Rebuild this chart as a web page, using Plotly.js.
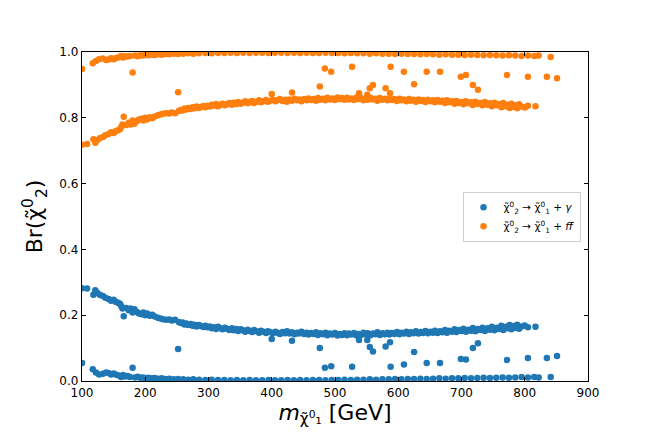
<!DOCTYPE html>
<html>
<head>
<meta charset="utf-8">
<script src="https://cdn.plot.ly/plotly-3.0.1.min.js"></script>
<style>
  html, body { margin: 0; padding: 0; background: #fff; }
  #chart { width: 654px; height: 436px; }
</style>
</head>
<body>
<div id="chart"></div>
<script>
// neutralino mass [GeV]
const mass = [
  // main band (photon ~0.15, fermions ~0.85)
  100, 108, 118, 121, 124, 128, 133, 137, 142, 146, 150, 153, 157, 160, 162, 164, 166, 170, 174, 177,
  180, 183, 187, 190, 194, 197, 200, 203, 207, 211, 215, 220, 224, 228, 233, 238, 242, 247, 253, 256,
  259, 262, 265, 268, 272, 275, 278, 281, 285, 288, 292, 295, 298, 302, 305, 308, 312, 315, 318, 322,
  326, 330, 333, 337, 340, 344, 347, 351, 354, 358, 362, 365, 369, 372, 376, 380, 383, 387, 391, 394,
  398, 402, 406, 410, 413, 417, 421, 424, 428, 432, 436, 440, 443, 447, 451, 455, 458, 462, 466, 470,
  473, 477, 481, 485, 488, 492, 496, 500, 504, 507, 511, 515, 519, 522, 526, 530, 534, 537, 541, 545,
  549, 552, 556, 560, 564, 567, 571, 575, 579, 583, 586, 590, 594, 598, 602, 605, 609, 613, 617, 620,
  624, 628, 632, 636, 639, 643, 647, 651, 655, 658, 662, 666, 670, 674, 677, 681, 685, 689, 692, 696,
  700, 703, 707, 711, 715, 718, 722, 726, 730, 733, 737, 741, 745, 748, 752, 756, 759, 763, 766, 770,
  773, 776, 779, 782, 785, 788, 791, 795, 800, 805, 817,
  // lower band (photon ~0, fermions ~1)
  100, 117, 122, 127, 133, 138, 142, 146, 150, 154, 158, 162, 165, 168, 172, 176, 180, 184, 188, 192,
  196, 200, 205, 210, 215, 220, 226, 232, 238, 245, 252, 260, 268, 276, 285, 295, 305, 315, 325, 335,
  345, 355, 365, 375, 385, 395, 405, 415, 425, 435, 445, 455, 465, 475, 485, 495, 505, 515, 525, 535,
  545, 555, 565, 575, 585, 595, 605, 615, 625, 635, 645, 655, 665, 675, 685, 695, 705, 715, 725, 735,
  745, 755, 765, 775, 785, 795, 805, 815, 822, 841,
  // scattered points
  252, 400, 432, 476, 484, 494, 527, 538, 551, 555, 560, 580, 587, 588, 609, 625, 645, 666, 699, 707,
  718, 726, 772, 805, 835, 851
]

// Br(chi2 -> chi1 + gamma)
const brPhoton = [
  0.282, 0.281, 0.262, 0.276, 0.268, 0.262, 0.258, 0.253, 0.249, 0.244, 0.247, 0.241, 0.238, 0.235, 0.228, 0.220, 0.197, 0.222, 0.215, 0.220,
  0.208, 0.218, 0.210, 0.205, 0.203, 0.208, 0.200, 0.205, 0.198, 0.201, 0.196, 0.192, 0.190, 0.188, 0.186, 0.187, 0.184, 0.186, 0.179, 0.176,
  0.178, 0.172, 0.175, 0.170, 0.173, 0.168, 0.171, 0.166, 0.170, 0.167, 0.164, 0.168, 0.163, 0.166, 0.160, 0.163, 0.158, 0.165, 0.161, 0.157,
  0.162, 0.158, 0.155, 0.160, 0.154, 0.158, 0.152, 0.157, 0.154, 0.150, 0.156, 0.152, 0.149, 0.155, 0.151, 0.147, 0.153, 0.150, 0.146, 0.151,
  0.148, 0.145, 0.150, 0.146, 0.143, 0.149, 0.145, 0.151, 0.144, 0.148, 0.142, 0.147, 0.144, 0.150, 0.143, 0.147, 0.141, 0.146, 0.143, 0.148,
  0.140, 0.145, 0.142, 0.147, 0.139, 0.144, 0.141, 0.146, 0.138, 0.143, 0.140, 0.145, 0.139, 0.144, 0.141, 0.146, 0.138, 0.143, 0.140, 0.147,
  0.141, 0.145, 0.139, 0.144, 0.142, 0.148, 0.140, 0.145, 0.142, 0.147, 0.141, 0.146, 0.143, 0.149, 0.142, 0.147, 0.144, 0.150, 0.143, 0.148,
  0.145, 0.151, 0.144, 0.149, 0.146, 0.152, 0.145, 0.150, 0.147, 0.153, 0.146, 0.151, 0.148, 0.155, 0.147, 0.153, 0.150, 0.157, 0.149, 0.155,
  0.152, 0.159, 0.150, 0.156, 0.153, 0.161, 0.151, 0.158, 0.155, 0.162, 0.152, 0.160, 0.156, 0.165, 0.154, 0.162, 0.158, 0.168, 0.155, 0.165,
  0.160, 0.170, 0.157, 0.167, 0.162, 0.171, 0.159, 0.166, 0.169, 0.163, 0.165,
  0.055, 0.036, 0.026, 0.020, 0.022, 0.026, 0.024, 0.020, 0.023, 0.019, 0.017, 0.012, 0.018, 0.014, 0.015, 0.012, 0.040, 0.011, 0.013, 0.010,
  0.011, 0.009, 0.010, 0.008, 0.009, 0.007, 0.008, 0.006, 0.007, 0.005, 0.006, 0.005, 0.004, 0.005, 0.004, 0.003, 0.004, 0.003, 0.003, 0.002,
  0.003, 0.002, 0.003, 0.002, 0.002, 0.003, 0.002, 0.002, 0.003, 0.002, 0.003, 0.002, 0.003, 0.003, 0.002, 0.003, 0.003, 0.004, 0.003, 0.004,
  0.004, 0.005, 0.004, 0.005, 0.005, 0.006, 0.005, 0.006, 0.006, 0.007, 0.006, 0.007, 0.008, 0.007, 0.008, 0.008, 0.009, 0.008, 0.009, 0.010,
  0.009, 0.010, 0.011, 0.010, 0.011, 0.012, 0.011, 0.012, 0.011, 0.012,
  0.097, 0.128, 0.122, 0.100, 0.040, 0.045, 0.043, 0.125, 0.125, 0.103, 0.090, 0.105, 0.118, 0.043, 0.050, 0.088, 0.055, 0.055, 0.067, 0.065,
  0.100, 0.115, 0.064, 0.070, 0.070, 0.076
]

// Br(chi2 -> chi1 + f fbar)
const brFermion = [
  0.718, 0.720, 0.735, 0.724, 0.732, 0.738, 0.742, 0.747, 0.751, 0.756, 0.754, 0.759, 0.762, 0.765, 0.772, 0.780, 0.803, 0.778, 0.785, 0.780,
  0.792, 0.782, 0.790, 0.795, 0.797, 0.792, 0.800, 0.795, 0.802, 0.799, 0.804, 0.808, 0.810, 0.812, 0.814, 0.813, 0.816, 0.814, 0.821, 0.824,
  0.822, 0.828, 0.825, 0.830, 0.827, 0.832, 0.829, 0.834, 0.830, 0.833, 0.836, 0.832, 0.837, 0.834, 0.840, 0.837, 0.842, 0.835, 0.839, 0.843,
  0.838, 0.842, 0.845, 0.840, 0.846, 0.842, 0.848, 0.843, 0.846, 0.850, 0.844, 0.848, 0.851, 0.845, 0.849, 0.853, 0.847, 0.850, 0.854, 0.849,
  0.852, 0.855, 0.850, 0.854, 0.857, 0.851, 0.855, 0.849, 0.856, 0.852, 0.858, 0.853, 0.856, 0.850, 0.857, 0.853, 0.859, 0.854, 0.857, 0.852,
  0.860, 0.855, 0.858, 0.853, 0.861, 0.856, 0.859, 0.854, 0.862, 0.857, 0.860, 0.855, 0.861, 0.856, 0.859, 0.854, 0.862, 0.857, 0.860, 0.853,
  0.859, 0.855, 0.861, 0.856, 0.858, 0.852, 0.860, 0.855, 0.858, 0.853, 0.859, 0.854, 0.857, 0.851, 0.858, 0.853, 0.856, 0.850, 0.857, 0.852,
  0.855, 0.849, 0.856, 0.851, 0.854, 0.848, 0.855, 0.850, 0.853, 0.847, 0.854, 0.849, 0.852, 0.845, 0.853, 0.847, 0.850, 0.843, 0.851, 0.845,
  0.848, 0.841, 0.850, 0.844, 0.847, 0.839, 0.849, 0.842, 0.845, 0.838, 0.848, 0.840, 0.844, 0.835, 0.846, 0.838, 0.842, 0.832, 0.845, 0.835,
  0.840, 0.830, 0.843, 0.833, 0.838, 0.829, 0.841, 0.834, 0.831, 0.837, 0.835,
  0.948, 0.966, 0.973, 0.978, 0.980, 0.976, 0.977, 0.981, 0.978, 0.982, 0.984, 0.988, 0.983, 0.987, 0.986, 0.988, 0.938, 0.989, 0.987, 0.990,
  0.989, 0.991, 0.990, 0.992, 0.991, 0.993, 0.992, 0.994, 0.993, 0.995, 0.994, 0.995, 0.996, 0.995, 0.996, 0.997, 0.996, 0.997, 0.997, 0.998,
  0.997, 0.998, 0.997, 0.998, 0.998, 0.997, 0.998, 0.998, 0.997, 0.998, 0.997, 0.998, 0.997, 0.997, 0.998, 0.997, 0.997, 0.996, 0.997, 0.996,
  0.996, 0.995, 0.996, 0.995, 0.995, 0.994, 0.995, 0.994, 0.994, 0.993, 0.994, 0.993, 0.992, 0.993, 0.992, 0.992, 0.991, 0.992, 0.991, 0.990,
  0.991, 0.990, 0.989, 0.990, 0.989, 0.988, 0.989, 0.988, 0.989, 0.985,
  0.878, 0.872, 0.877, 0.895, 0.950, 0.940, 0.955, 0.875, 0.870, 0.890, 0.900, 0.890, 0.875, 0.955, 0.940, 0.902, 0.940, 0.940, 0.925, 0.930,
  0.900, 0.885, 0.930, 0.925, 0.925, 0.920
]

const labels = [
  'χ̃<sup>0</sup><sub>2</sub> → χ̃<sup>0</sup><sub>1</sub> + <i>γ</i>',
  'χ̃<sup>0</sup><sub>2</sub> → χ̃<sup>0</sup><sub>1</sub> + <i>f</i><i>f̄</i>'
]
const colors = ['#1f77b4', '#ff7f0e']
const xTicks = [100, 200, 300, 400, 500, 600, 700, 800, 900]
const yTicks = [0.0, 0.2, 0.4, 0.6, 0.8, 1.0]

const font = 'DejaVu Sans, sans-serif'

const data = [brPhoton, brFermion].map(function (ys, i) {
  return {
    x: mass,
    y: ys,
    type: 'scatter',
    mode: 'markers',
    name: labels[i],
    marker: { color: colors[i], size: 6.5, line: { width: 0 } }
  }
})

const axisStyle = {
  showline: true,
  linecolor: '#000',
  linewidth: 1.2,
  mirror: 'ticks',
  ticks: 'inside',
  ticklen: 4,
  tickwidth: 1,
  tickcolor: '#000',
  showgrid: false,
  zeroline: false,
  tickfont: { family: font, size: 12, color: '#000' }
}

const layout = {
  width: 654,
  height: 436,
  margin: { l: 82, r: 66, t: 52, b: 55 },
  paper_bgcolor: '#fff',
  plot_bgcolor: '#fff',
  font: { family: font, color: '#000' },
  showlegend: true,
  xaxis: Object.assign({}, axisStyle, {
    range: [100, 900],
    tickvals: xTicks,
    ticktext: xTicks.map(String),
    title: {
      text: '<i>m</i><sub>χ̃<sup>0</sup>₁</sub> [GeV]',
      font: { family: font, size: 22 },
      standoff: 4
    }
  }),
  yaxis: Object.assign({}, axisStyle, {
    range: [0, 1.0],
    tickvals: yTicks,
    ticktext: yTicks.map(function (v) { return v.toFixed(1) }),
    title: {
      text: 'Br(χ̃<sup>0</sup><sub>2</sub>)',
      font: { family: font, size: 22 },
      standoff: 10
    }
  }),
  legend: {
    x: 0.752,
    y: 0.575,
    xanchor: 'left',
    yanchor: 'top',
    bgcolor: '#fff',
    bordercolor: '#d0d0d0',
    borderwidth: 1,
    font: { family: font, size: 10.5 },
    itemwidth: 30,
    tracegroupgap: 2
  }
}

Plotly.newPlot('chart', data, layout, { staticPlot: true })
</script>
</body>
</html>
